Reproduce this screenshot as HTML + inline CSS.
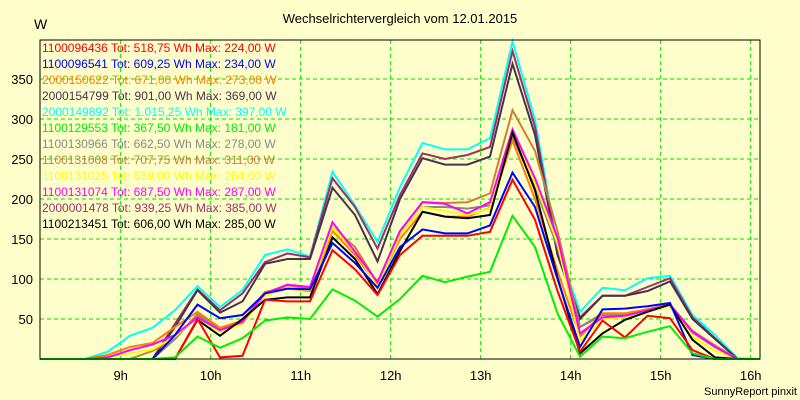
<!DOCTYPE html>
<html><head><meta charset="utf-8"><style>
body{margin:0;background:#ffffcc;}
svg{display:block;font-family:"Liberation Sans",sans-serif;}
</style></head><body>
<svg id="chart" width="800" height="400" viewBox="0 0 800 400" xmlns="http://www.w3.org/2000/svg">
<rect x="0" y="0" width="800" height="400" fill="#ffffcc"/>
<text x="400" y="23" font-size="13" text-anchor="middle" fill="#000">Wechselrichtervergleich vom 12.01.2015</text>
<text x="34" y="29" font-size="14" fill="#000">W</text>
<text x="797" y="395" font-size="11" text-anchor="end" fill="#000">SunnyReport pinxit</text>
<g id="grid"></g><g id="series"></g><g id="axes"></g><g id="legend"></g>
</svg>
<script>
const yTicks=[50,100,150,200,250,300,350];
const xTickLabels=["9h","10h","11h","12h","13h","14h","15h","16h"];
const xTickHours=[9,10,11,12,13,14,15,16];
const names=["1100096436","1100096541","2000150622","2000154799","2000149892","1100129553","1100130966","1100131008","1100131025","1100131074","2000001478","1100213451"];
const totals=["518,75","609,25","671,00","901,00","1.015,25","367,50","662,50","707,75","659,00","687,50","939,25","606,00"];
const maxes=["224,00","234,00","273,00","369,00","397,00","181,00","278,00","311,00","284,00","287,00","385,00","285,00"];
const colors=["#ff0000","#0000ff","#ff8000","#4a3050","#00ffff","#00ee00","#888888","#cc8033","#ffff00","#ff00ff","#993366","#000000"];
const sRed=[0,0,0,0,0,0,0,50,2,4,74,72,72,136,112,80,130,154,154,154,159,224,174,85,9,48,27,54,51,11,0,0,0];
const sBlue=[0,0,0,0,0,0,30,68,51,55,82,88,87,145,120,89,140,162,157,157,167,233,190,100,15,62,63,66,70,5,0,0,0];
const sOrange=[0,0,0,5,15,20,40,59,39,48,84,88,85,160,130,92,150,184,178,178,189,273,200,110,28,57,57,62,66,33,15,0,0];
const sDarkPurple=[0,0,0,0,0,0,40,86,58,72,119,125,125,214,180,122,200,251,243,243,253,369,280,130,50,79,79,85,97,50,25,0,0];
const sCyan=[0,0,0,9,29,39,61,91,65,86,130,137,128,234,192,146,215,270,262,262,276,397,299,140,59,89,86,101,104,55,30,1,0];
const sGreen=[0,0,0,0,0,0,2,28,14,26,48,52,50,87,73,53,75,104,96,103,109,179,140,57,3,28,26,34,41,7,0,0,0];
const sGray=[0,0,0,0,0,0,25,55,37,45,80,88,86,165,135,92,155,190,190,188,192,278,215,140,40,55,55,62,68,35,16,0,0];
const sCopper=[0,0,0,0,0,10,25,56,38,46,83,92,88,165,140,95,160,196,195,196,207,311,260,160,40,57,57,62,68,35,17,0,0];
const sYellow=[0,0,0,2,7,12,28,52,34,44,80,88,86,165,135,90,155,190,185,180,188,284,220,145,22,50,52,60,66,28,10,0,0];
const sMagenta=[0,0,0,2,11,18,30,52,36,46,82,93,90,171,134,96,160,196,194,182,196,287,226,152,32,52,54,61,68,34,15,0,0];
const sPurple=[0,0,0,0,0,0,44,87,61,82,121,132,127,226,190,138,205,257,250,255,265,385,290,135,52,79,79,90,101,52,26,0,0];
const sBlack=[0,0,0,0,0,0,0,49,29,50,74,77,77,152,125,81,135,184,178,176,180,283,211,102,7,32,49,59,68,24,2,0,0];
const seriesData=[sRed,sBlue,sOrange,sDarkPurple,sCyan,sGreen,sGray,sCopper,sYellow,sMagenta,sPurple,sBlack];
const drawOrder=[4,10,3,7,6,2,8,9,11,1,0,5];

const L=40,R=760,T=40,B=359;
const yScale=v=>B-v*0.8;
const hourX=h=>120.7+(h-9)*90;
const idxX=i=>L+i*(R-L)/32;
const NS="http://www.w3.org/2000/svg";
function mk(tag,attrs,parent){const e=document.createElementNS(NS,tag);for(const k in attrs)e.setAttribute(k,attrs[k]);parent.appendChild(e);return e;}
const grid=document.getElementById('grid'),axes=document.getElementById('axes'),ser=document.getElementById('series'),leg=document.getElementById('legend');
yTicks.forEach(v=>{
  const y=yScale(v);
  const g=mk('line',{x1:L,x2:R,y1:y,y2:y,stroke:'#00dd00','stroke-dasharray':'4,3','stroke-width':1},grid);
  
  
  const t=mk('text',{x:33,y:y+5,'font-size':13,'text-anchor':'end',fill:'#000'},axes);
  t.textContent=v;
  
  
});
xTickHours.forEach((h,i)=>{
  const x=hourX(h);
  const g=mk('line',{x1:x,x2:x,y1:T,y2:B,stroke:'#00dd00','stroke-dasharray':'4,3','stroke-width':1},grid);
  
  
  const t=mk('text',{x:x,y:380,'font-size':13,'text-anchor':'middle',fill:'#000'},axes);
  t.textContent=xTickLabels[i];
  
  
});
drawOrder.forEach(si=>{
  const d=seriesData[si];
  const pts=d.map((v,i)=>idxX(i).toFixed(1)+','+yScale(v).toFixed(1)).join(' ');
  const p=mk('polyline',{points:pts,fill:'none',stroke:colors[si],'stroke-width':2,'stroke-linejoin':'miter'},ser);
  
  
});
const frame=mk('rect',{x:L,y:T,width:R-L,height:B-T,fill:'none',stroke:'#000','stroke-width':1},axes);


names.forEach((n,i)=>{
  const t=mk('text',{x:42,y:52+i*16,'font-size':12,fill:colors[i]},leg);
  t.textContent=n+' Tot: '+totals[i]+' Wh Max: '+maxes[i]+' W';
  
  
});
</script>
</body></html>
